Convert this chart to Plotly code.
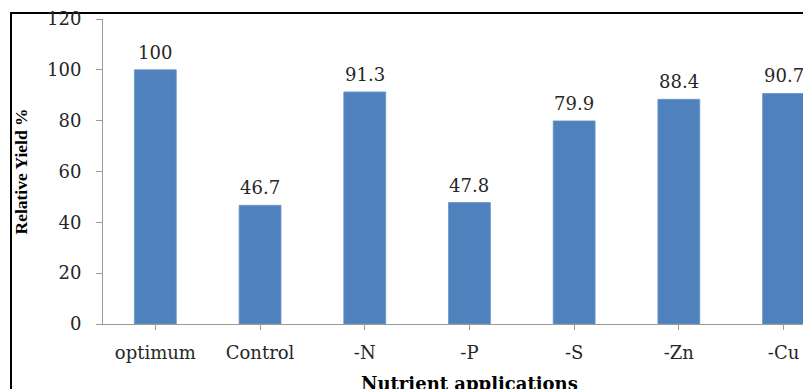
import plotly.graph_objects as go

# Relative yield under each nutrient treatment
treatments = ["optimum", "Control", "-N", "-P", "-S", "-Zn", "-Cu"]
relative_yield = [100, 46.7, 91.3, 47.8, 79.9, 88.4, 90.7]
y_ticks = [0, 20, 40, 60, 80, 100, 120]

W, H = 803, 389
L, R, T, B = 103, 0, 19, 65
plot_w, plot_h = W - L - R, H - T - B

serif_wide = "DejaVu Serif, serif"
serif = "Liberation Serif, Times New Roman, serif"
text_col = "#262626"
axis_col = "#9a9a9a"

fig = go.Figure()
fig.add_trace(go.Bar(
    x=list(range(len(treatments))),
    y=relative_yield,
    width=0.4,
    marker=dict(color="#4F81BD", line=dict(color="#6A95C9", width=0.8)),
    hoverinfo="skip",
))

# value labels above each bar
for i, v in enumerate(relative_yield):
    fig.add_annotation(
        x=i, y=v, xref="x", yref="y", text=f"{v:g}",
        showarrow=False, yanchor="bottom", yshift=5,
        font=dict(family=serif_wide, size=18, color=text_col),
    )

# the category axis is wider than the page, so only ~6.7 slots are visible
cat_px = 104.7
x_max = (plot_w / cat_px) - 0.5

fig.update_xaxes(
    range=[-0.5, x_max],
    tickmode="array",
    tickvals=list(range(len(treatments))),
    ticktext=treatments,
    tickson="boundaries",
    ticks="outside", ticklen=5, tickcolor=axis_col,
    showline=True, linecolor=axis_col, linewidth=1,
    showgrid=False, zeroline=False,
    ticklabelstandoff=7,
    tickfont=dict(family=serif_wide, size=18, color=text_col),
)
fig.update_yaxes(
    range=[0, 120],
    tickvals=y_ticks,
    ticks="outside", ticklen=6, tickcolor=axis_col,
    showline=True, linecolor=axis_col, linewidth=1,
    showgrid=False, zeroline=False,
    ticklabelstandoff=11,
    tickfont=dict(family=serif_wide, size=18, color=text_col),
)

# axis titles
fig.add_annotation(
    x=(20 - L) / plot_w, y=0.5, xref="paper", yref="paper",
    text="<b>Relative Yield %</b>", textangle=-90, showarrow=False,
    xanchor="center", yanchor="middle",
    font=dict(family=serif, size=17.5, color="black"),
)
fig.add_annotation(
    x=(470 - L) / plot_w, y=-(371 - (H - B)) / plot_h, xref="paper", yref="paper",
    text="<b>Nutrient applications</b>", showarrow=False,
    xanchor="center", yanchor="top",
    font=dict(family=serif_wide, size=18, color="black"),
)

# outer chart frame, extending past the visible page
fig.add_shape(
    type="rect", xref="paper", yref="paper",
    x0=(11 - L) / plot_w, x1=1.2,
    y0=-0.5, y1=((H - B) - 13) / plot_h,
    line=dict(color="black", width=2), fillcolor="rgba(0,0,0,0)",
    layer="below",
)

fig.update_layout(
    width=W, height=H,
    margin=dict(l=L, r=R, t=T, b=B, pad=0),
    plot_bgcolor="white", paper_bgcolor="white",
    showlegend=False,
)

fig.write_html("out.html")
